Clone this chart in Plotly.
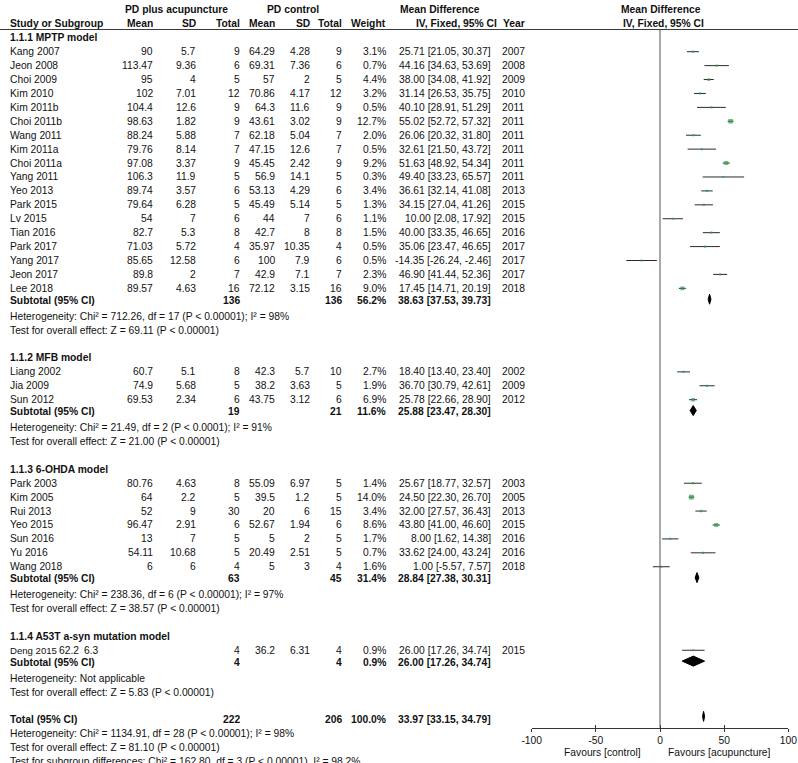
import math
import plotly.graph_objects as go

# ---------------- data ----------------
group_titles = ["1.1.1 MPTP model", "1.1.2 MFB model", "1.1.3 6-OHDA model",
                "1.1.4 A53T a-syn mutation model"]

study = ["Kang 2007", "Jeon 2008", "Choi 2009", "Kim 2010", "Kim 2011b", "Choi 2011b",
         "Wang 2011", "Kim 2011a", "Choi 2011a", "Yang 2011", "Yeo 2013", "Park 2015",
         "Lv 2015", "Tian 2016", "Park 2017", "Yang 2017", "Jeon 2017", "Lee 2018",
         "Liang 2002", "Jia 2009", "Sun 2012",
         "Park 2003", "Kim 2005", "Rui 2013", "Yeo 2015", "Sun 2016", "Yu 2016", "Wang 2018",
         "Deng 2015"]
group = [0] * 18 + [1] * 3 + [2] * 7 + [3]

mean_acu = [90, 113.47, 95, 102, 104.4, 98.63, 88.24, 79.76, 97.08, 106.3, 89.74, 79.64,
            54, 82.7, 71.03, 85.65, 89.8, 89.57,
            60.7, 74.9, 69.53,
            80.76, 64, 52, 96.47, 13, 54.11, 6,
            62.2]
sd_acu = [5.7, 9.36, 4, 7.01, 12.6, 1.82, 5.88, 8.14, 3.37, 11.9, 3.57, 6.28,
          7, 5.3, 5.72, 12.58, 2, 4.63,
          5.1, 5.68, 2.34,
          4.63, 2.2, 9, 2.91, 7, 10.68, 6,
          6.3]
n_acu = [9, 6, 5, 12, 9, 9, 7, 7, 9, 5, 6, 5, 6, 8, 4, 6, 7, 16,
         8, 5, 6,
         8, 5, 30, 6, 5, 5, 4,
         4]
mean_ctl = [64.29, 69.31, 57, 70.86, 64.3, 43.61, 62.18, 47.15, 45.45, 56.9, 53.13, 45.49,
            44, 42.7, 35.97, 100, 42.9, 72.12,
            42.3, 38.2, 43.75,
            55.09, 39.5, 20, 52.67, 5, 20.49, 5,
            36.2]
sd_ctl = [4.28, 7.36, 2, 4.17, 11.6, 3.02, 5.04, 12.6, 2.42, 14.1, 4.29, 5.14,
          7, 8, 10.35, 7.9, 7.1, 3.15,
          5.7, 3.63, 3.12,
          6.97, 1.2, 6, 1.94, 2, 2.51, 3,
          6.31]
n_ctl = [9, 6, 5, 12, 9, 9, 7, 7, 9, 5, 6, 5, 6, 8, 4, 6, 7, 16,
         10, 5, 6,
         5, 5, 15, 6, 5, 5, 4,
         4]
weight = [3.1, 0.7, 4.4, 3.2, 0.5, 12.7, 2.0, 0.5, 9.2, 0.3, 3.4, 1.3,
          1.1, 1.5, 0.5, 0.5, 2.3, 9.0,
          2.7, 1.9, 6.9,
          1.4, 14.0, 3.4, 8.6, 1.7, 0.7, 1.6,
          0.9]
md = [25.71, 44.16, 38.00, 31.14, 40.10, 55.02, 26.06, 32.61, 51.63, 49.40, 36.61, 34.15,
      10.00, 40.00, 35.06, -14.35, 46.90, 17.45,
      18.40, 36.70, 25.78,
      25.67, 24.50, 32.00, 43.80, 8.00, 33.62, 1.00,
      26.00]
ci_lo = [21.05, 34.63, 34.08, 26.53, 28.91, 52.72, 20.32, 21.50, 48.92, 33.23, 32.14, 27.04,
         2.08, 33.35, 23.47, -26.24, 41.44, 14.71,
         13.40, 30.79, 22.66,
         18.77, 22.30, 27.57, 41.00, 1.62, 24.00, -5.57,
         17.26]
ci_hi = [30.37, 53.69, 41.92, 35.75, 51.29, 57.32, 31.80, 43.72, 54.34, 65.57, 41.08, 41.26,
         17.92, 46.65, 46.65, -2.46, 52.36, 20.19,
         23.40, 42.61, 28.90,
         32.57, 26.70, 36.43, 46.60, 14.38, 43.24, 7.57,
         34.74]
year = [2007, 2008, 2009, 2010, 2011, 2011, 2011, 2011, 2011, 2011, 2013, 2015,
        2015, 2016, 2017, 2017, 2017, 2018,
        2002, 2009, 2012,
        2003, 2005, 2013, 2015, 2016, 2016, 2018,
        2015]

sub_n_acu = [136, 19, 63, 4]
sub_n_ctl = [136, 21, 45, 4]
sub_weight = [56.2, 11.6, 31.4, 0.9]
sub_md = [38.63, 25.88, 28.84, 26.00]
sub_lo = [37.53, 23.47, 27.38, 17.26]
sub_hi = [39.73, 28.30, 30.31, 34.74]
sub_het = ["Heterogeneity: Chi² = 712.26, df = 17 (P < 0.00001); I² = 98%",
           "Heterogeneity: Chi² = 21.49, df = 2 (P < 0.0001); I² = 91%",
           "Heterogeneity: Chi² = 238.36, df = 6 (P < 0.00001); I² = 97%",
           "Heterogeneity: Not applicable"]
sub_z = ["Test for overall effect: Z = 69.11 (P < 0.00001)",
         "Test for overall effect: Z = 21.00 (P < 0.00001)",
         "Test for overall effect: Z = 38.57 (P < 0.00001)",
         "Test for overall effect: Z = 5.83 (P < 0.00001)"]

total_n_acu = 222
total_n_ctl = 206
total_weight = 100.0
total_md = 33.97
total_lo = 33.15
total_hi = 34.79
total_notes = ["Heterogeneity: Chi² = 1134.91, df = 28 (P < 0.00001); I² = 98%",
               "Test for overall effect: Z = 81.10 (P < 0.00001)",
               "Test for subgroup differences: Chi² = 162.80, df = 3 (P < 0.00001), I² = 98.2%"]

x_ticks = [-100, -50, 0, 50, 100]
favour_labels = ["Favours [control]", "Favours [acupuncture]"]

# ---------------- layout helpers ----------------
W, H = 798, 763
FONT = "Liberation Sans, Arial, sans-serif"
FS = 10.3
TXT = "#111111"
ROW0_PX = 51.7      # pixel y of first study row
ROW_PX = 13.92      # pixel height of one row
y_top = -ROW0_PX / ROW_PX
y_bot = (H - ROW0_PX) / ROW_PX

# column positions (pixels)
X_NAME = 8.5
X_MA, X_SA, X_NA = 154, 197, 241
X_MC, X_SC, X_NC = 275.5, 310.5, 342.5
X_W = 386.5
X_CI = 492.5
X_YEAR = 500.5
AX_L, AX_R = 531.7, 788.3

def px(x):
    return x / W

def py(y):
    return 1 - y / H

annotations = []

def add_text(x, row, text, anchor="right", bold=False, size=FS):
    annotations.append(dict(
        x=px(x), xref="paper", y=row, yref="y", text=("<b>%s</b>" % text) if bold else text,
        showarrow=False, xanchor=anchor, yanchor="middle",
        font=dict(family=FONT, size=size, color=TXT), borderpad=0))

def fnum(v):
    return "{:g}".format(v)

def fci(m, lo, hi):
    return "{:.2f} [{:.2f}, {:.2f}]".format(m, lo, hi)

# header rows
add_text(176.5, -3, "PD plus acupuncture", "center", True)
add_text(292.5, -3, "PD control", "center", True)
add_text(439.5, -3, "Mean Difference", "center", True)
add_text(660.5, -3, "Mean Difference", "center", True)
add_text(X_NAME, -2, "Study or Subgroup", "left", True)
add_text(X_MA, -2, "Mean", "right", True)
add_text(X_SA, -2, "SD", "right", True)
add_text(X_NA, -2, "Total", "right", True)
add_text(X_MC, -2, "Mean", "right", True)
add_text(X_SC, -2, "SD", "right", True)
add_text(X_NC, -2, "Total", "right", True)
add_text(X_W, -2, "Weight", "right", True)
add_text(497.5, -2, "IV, Fixed, 95% CI", "right", True)
add_text(X_YEAR + 1, -2, "Year", "left", True)
add_text(663.5, -2, "IV, Fixed, 95% CI", "center", True)

# per-row x offsets of the two acupuncture columns (reference quirk)
shift_mean = {"Deng 2015": -74}
shift_sd = {"Deng 2015": -97}

study_rows = []
sub_rows = []
r = -1
for g, title in enumerate(group_titles):
    add_text(X_NAME, r, title, "left", True)
    r += 1
    for i in range(len(study)):
        if group[i] != g:
            continue
        study_rows.append(r)
        small = study[i] in shift_mean
        add_text(X_NAME, r, study[i], "left", size=(9.6 if small else FS))
        add_text(X_MA + shift_mean.get(study[i], 0), r, fnum(mean_acu[i]))
        add_text(X_SA + shift_sd.get(study[i], 0), r, fnum(sd_acu[i]))
        add_text(X_NA, r, fnum(n_acu[i]))
        add_text(X_MC, r, fnum(mean_ctl[i]))
        add_text(X_SC, r, fnum(sd_ctl[i]))
        add_text(X_NC, r, fnum(n_ctl[i]))
        add_text(X_W, r, "{:.1f}%".format(weight[i]))
        add_text(X_CI, r, fci(md[i], ci_lo[i], ci_hi[i]))
        add_text(X_YEAR, r, str(year[i]), "left")
        r += 1
    rs = r - 0.12
    sub_rows.append(rs)
    add_text(X_NAME, rs, "Subtotal (95% CI)", "left", True)
    add_text(X_NA, rs, str(sub_n_acu[g]), "right", True)
    add_text(X_NC, rs, str(sub_n_ctl[g]), "right", True)
    add_text(X_W, rs, "{:.1f}%".format(sub_weight[g]), "right", True)
    add_text(X_CI, rs, fci(sub_md[g], sub_lo[g], sub_hi[g]), "right", True)
    r += 1
    add_text(X_NAME, r, sub_het[g], "left")
    r += 1
    add_text(X_NAME, r, sub_z[g], "left")
    r += 2

total_row = r
add_text(X_NAME, r, "Total (95% CI)", "left", True)
add_text(X_NA, r, str(total_n_acu), "right", True)
add_text(X_NC, r, str(total_n_ctl), "right", True)
add_text(X_W, r, "{:.1f}%".format(total_weight), "right", True)
add_text(X_CI, r, fci(total_md, total_lo, total_hi), "right", True)
for k, note in enumerate(total_notes):
    add_text(X_NAME, r + 1 + k, note, "left")

# favours labels (paper y)
annotations.append(dict(x=px(642), xref="paper", y=py(752.3), yref="paper",
                        text=favour_labels[0], showarrow=False, xanchor="right",
                        yanchor="middle", borderpad=0,
                        font=dict(family=FONT, size=FS, color=TXT)))
annotations.append(dict(x=px(666.5), xref="paper", y=py(752.3), yref="paper",
                        text=favour_labels[1], showarrow=False, xanchor="left",
                        yanchor="middle", borderpad=0,
                        font=dict(family=FONT, size=FS, color=TXT)))

# ---------------- traces ----------------
ci_x, ci_y = [], []
for i in range(len(study)):
    ci_x += [ci_lo[i], ci_hi[i], None]
    ci_y += [study_rows[i], study_rows[i], None]

fig = go.Figure()
fig.add_trace(go.Scatter(x=ci_x, y=ci_y, mode="lines", xaxis="x2", yaxis="y",
                         line=dict(color="#2b2b2b", width=1), hoverinfo="skip",
                         showlegend=False))
fig.add_trace(go.Scatter(x=md, y=study_rows, mode="markers", xaxis="x2", yaxis="y",
                         marker=dict(symbol="square", color="#2f9e48",
                                     size=[max(2.2, 1.3 * math.sqrt(w)) for w in weight],
                                     line=dict(width=0)),
                         hoverinfo="skip", showlegend=False))

HH = 0.36
dx, dy = [], []
d_md = sub_md + [total_md]
d_lo = sub_lo + [total_lo]
d_hi = sub_hi + [total_hi]
d_row = [s - 0.1 for s in sub_rows] + [total_row - 0.25]
for m, lo, hi, rr in zip(d_md, d_lo, d_hi, d_row):
    dx += [lo, m, hi, m, lo, None]
    dy += [rr, rr - HH, rr, rr + HH, rr, None]
fig.add_trace(go.Scatter(x=dx, y=dy, mode="lines", fill="toself", fillcolor="#000000",
                         line=dict(color="#000000", width=1), xaxis="x2", yaxis="y",
                         hoverinfo="skip", showlegend=False))
fig.add_trace(go.Scatter(x=[None], y=[None], xaxis="x3", yaxis="y", mode="markers",
                         hoverinfo="skip", showlegend=False))

axis_y = py(727.7)
shapes = [
    dict(type="line", xref="paper", yref="paper", x0=0, x1=1, y0=py(29.5), y1=py(29.5),
         line=dict(color="#3a3a3a", width=1)),
    dict(type="line", xref="x2", yref="paper", x0=0, x1=0, y0=axis_y, y1=py(29.5),
         line=dict(color="#555555", width=1)),
]

fig.update_layout(
    width=W, height=H,
    margin=dict(l=0, r=0, t=0, b=0, autoexpand=False),
    paper_bgcolor="white", plot_bgcolor="white",
    showlegend=False,
    font=dict(family=FONT, size=FS, color=TXT),
    xaxis=dict(visible=False, range=[0, 1], domain=[0, 1]),
    yaxis=dict(visible=False, range=[y_bot, y_top], domain=[0, 1], anchor="x"),
    xaxis2=dict(domain=[px(AX_L), px(AX_R)], range=[-100, 100], anchor="free",
                position=axis_y, tickvals=x_ticks, ticktext=[str(t) for t in x_ticks],
                ticks="outside", ticklen=3, tickwidth=1, tickcolor="#333333",
                showline=True, linecolor="#333333", linewidth=1, showgrid=False,
                zeroline=False, tickfont=dict(family=FONT, size=FS, color=TXT)),
    xaxis3=dict(domain=[px(AX_L), px(AX_R)], range=[-100, 100], anchor="free",
                overlaying="x2", position=axis_y, tickvals=x_ticks,
                ticks="inside", ticklen=3, tickwidth=1, tickcolor="#333333",
                showticklabels=False, showline=False, showgrid=False, zeroline=False),
    annotations=annotations,
    shapes=shapes,
)

fig.write_html("out.html", config={"displayModeBar": False},
               post_script="document.body.style.margin='0';document.body.style.overflow='hidden';")
